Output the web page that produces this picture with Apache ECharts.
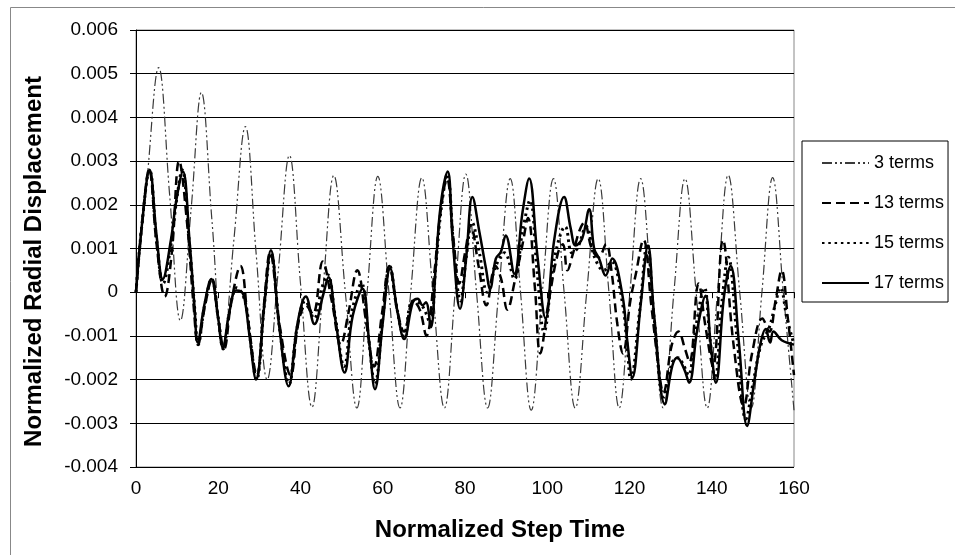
<!DOCTYPE html>
<html><head><meta charset="utf-8">
<script src="https://cdn.jsdelivr.net/npm/echarts@6/dist/echarts.min.js"></script>
<style>html,body{margin:0;padding:0;background:#fff}#c{width:955px;height:555px}</style>
</head><body><div id="c"></div>
<script>
const xTicks = [0, 20, 40, 60, 80, 100, 120, 140, 160];
const yTickLabels = ['-0.004', '-0.003', '-0.002', '-0.001', '0', '0.001', '0.002', '0.003', '0.004', '0.005', '0.006'];
const seriesNames = ['3 terms', '13 terms', '15 terms', '17 terms'];

const terms3 = [[0,0],[2.7,0.0026],[5.5,0.00514],[8.2,0.0022],[10.8,-0.00065],[13.4,0.0019],[15.9,0.00457],[18.5,0.0016],[21.1,-0.00129],[23.8,0.0012],[26.6,0.00379],[29.2,0.0009],[31.9,-0.002],[34.6,0.0005],[37.3,0.00313],[40.0,0.0002],[42.8,-0.00263],[45.4,0.0000],[48.1,0.00267],[50.9,0.0],[53.7,-0.00265],[56.2,0.0],[58.8,0.00265],[61.5,0.0],[64.2,-0.00265],[66.8,0],[69.5,0.00262],[72.2,0],[75.0,-0.00265],[77.6,0],[80.2,0.0027],[82.8,0],[85.5,-0.00265],[88.2,0],[91.0,0.0026],[93.5,0],[96.1,-0.0027],[98.8,0],[101.5,0.0026],[104.1,0],[106.8,-0.00265],[109.6,0],[112.4,0.0026],[115.0,0],[117.5,-0.00265],[120.1,0],[122.7,0.0026],[125.4,0],[128.2,-0.00265],[130.8,0],[133.5,0.0026],[136.2,0],[138.9,-0.00265],[141.4,0],[144.0,0.00268],[146.8,0],[149.6,-0.00265],[152.2,0],[154.8,0.00262],[157.4,0],[160,-0.0027]];

const terms13 = [[0,0],[1.5,0.0016],[3.2,0.0028],[5,0.0011],[7,-0.0001],[8.7,0.0009],[10.5,0.003],[12.4,0.0016],[14,-0.0003],[15.1,-0.0012],[16.6,-0.0004],[18.5,0.0003],[20,-0.0006],[21.4,-0.0013],[23.2,-0.0002],[25.4,0.0006],[27.2,-0.0006],[29.4,-0.0019],[31.1,-0.0003],[32.6,0.0009],[35,-0.0008],[37.6,-0.0019],[39.5,-0.0007],[41.3,-0.0003],[43,-0.0005],[45.4,0.0007],[47.6,-0.0002],[49.8,-0.0012],[51.6,-0.0005],[53.8,0.0005],[56,-0.0007],[57.9,-0.0017],[59.8,-0.0005],[61.6,0.0006],[63.5,-0.0004],[65.2,-0.0009],[67.4,-0.0002],[69,-0.0004],[70.6,-0.001],[72.5,0.0004],[74,0.0018],[75.6,0.0026],[77.2,0.0012],[78.6,0.0002],[80,0.0009],[81.4,0.0015],[83.3,0.0006],[85.2,-0.0003],[87.4,0.0006],[88.8,0.0003],[90.3,-0.0004],[92.2,0.0003],[94,0.0011],[95.3,0.0017],[97,0.0001],[98.3,-0.0014],[100.2,-0.0003],[102.6,0.0009],[103.8,0.0011],[104.9,0.0005],[106.3,0.0009],[107.8,0.0014],[109,0.0016],[110.8,0.0010],[112.5,0.0008],[114.3,0.0011],[115.6,0.0005],[117,-0.0007],[118.4,-0.0014],[120.2,-0.0002],[121.5,0.0004],[123.4,0.0012],[125.3,-0.0003],[127.3,-0.0019],[128.2,-0.0023],[130.3,-0.0012],[131.9,-0.0009],[133.5,-0.0013],[134.6,-0.0016],[136.8,0.0002],[138.5,-0.0008],[140.3,-0.0017],[142.7,0.0012],[145.3,-0.0012],[147.8,-0.0026],[149.8,-0.0014],[152.3,-0.0006],[154,-0.0009],[155.5,-0.0002],[157,0.0005],[158.5,-0.0006],[160,-0.0019]];

const terms15 = [[0,0],[1.5,0.0016],[3.3,0.0028],[5,0.0012],[6.6,0.0002],[8.5,0.0011],[10,0.0022],[11.2,0.0028],[13,0.0011],[14.3,-0.0004],[15.1,-0.0012],[16.7,-0.0003],[18.4,0.0003],[20,-0.0006],[21.2,-0.0013],[22.8,-0.0004],[24.5,0.0001],[26.5,-0.0002],[27.8,-0.0011],[29.3,-0.002],[31.2,-0.0003],[32.8,0.0009],[35,-0.0009],[37.2,-0.0021],[39.2,-0.0008],[41.2,-0.0002],[43.3,-0.0006],[45.2,0.0001],[46.6,0.0004],[48.5,-0.0006],[50.6,-0.0017],[52.6,-0.0004],[54.8,0.0002],[56.6,-0.0011],[58.1,-0.0021],[60,-0.0006],[61.7,0.0006],[63.5,-0.0004],[65.2,-0.001],[67.3,-0.0002],[69.5,-0.0003],[71.5,-0.0007],[72.9,0.0006],[74.2,0.0019],[75.7,0.0027],[77.2,0.0011],[78.9,-0.0002],[80.3,0.0008],[81.7,0.0016],[83.5,0.0009],[85.4,0.0000],[87.5,0.0006],[89.6,0.0009],[92,0.0003],[94,0.0014],[95.8,0.0021],[97.6,0.0004],[99.2,-0.0009],[101.8,0.0008],[104.4,0.0015],[106,0.0009],[107.3,0.0010],[109.5,0.0015],[111.5,0.0008],[113.8,0.0005],[115.6,0.0007],[118.2,-0.0002],[119.4,-0.0012],[120.3,-0.002],[122.5,-0.0004],[124.3,0.0011],[126,-0.0006],[128.4,-0.0024],[130.4,-0.0016],[131.8,-0.0015],[133.3,-0.0017],[134.3,-0.0019],[136.3,-0.0007],[138.2,0.0001],[139.5,-0.001],[140.8,-0.002],[142.5,-0.0002],[144,0.0008],[146.2,-0.0011],[148.3,-0.0029],[150.2,-0.002],[152,-0.0012],[154,-0.0008],[155.4,-0.0003],[156.7,0.0001],[158.3,-0.0006],[160,-0.0012]];

const terms17 = [[0,0],[1.5,0.0016],[3.3,0.0028],[5,0.0013],[6.5,0.0003],[8.5,0.0012],[9.8,0.0021],[11.4,0.00276],[13,0.0012],[14.2,-0.0003],[15.0,-0.00115],[16.6,-0.0003],[18.3,0.0003],[19.9,-0.00054],[21.1,-0.00126],[22.7,-0.00046],[24.3,0.00004],[25.5,0.00002],[26.4,-0.00015],[27.6,-0.001],[29.2,-0.002],[31.2,-0.0003],[32.8,0.00096],[34.9,-0.00084],[37.1,-0.00215],[39.3,-0.0007],[41.3,-0.0001],[43.4,-0.00073],[45.4,-0.0001],[46.8,0.00034],[48.6,-0.0007],[50.7,-0.00184],[52.7,-0.00054],[55.1,0.00008],[56.7,-0.00115],[58.1,-0.00222],[60,-0.0007],[61.8,0.00054],[63.6,-0.00046],[65.2,-0.00107],[67.3,-0.00023],[68.5,-0.00015],[69.7,-0.0003],[70.5,-0.00023],[71.7,-0.0008],[72.9,0.0006],[74.1,0.002],[75.8,0.00276],[77,0.0012],[78.8,-0.00038],[80.3,0.0008],[81.8,0.00218],[83.5,0.00138],[85.1,0.00054],[86.1,0.00008],[87.5,0.00077],[88.7,0.00092],[89.9,0.0013],[92.0,0.00042],[94,0.00184],[95.6,0.0026],[97.6,0.00084],[99.6,-0.0006],[101.7,0.0012],[104.1,0.00218],[105.7,0.00146],[106.9,0.00107],[108.5,0.00123],[110.2,0.0019],[111.4,0.001],[112.6,0.00077],[114.2,0.00038],[115.8,0.00077],[118.3,-0.00008],[119.5,-0.00115],[120.7,-0.00195],[122.7,-0.0003],[124.5,0.00107],[126,-0.00054],[128.6,-0.00256],[130.4,-0.00169],[131.6,-0.0015],[133.3,-0.00176],[134.5,-0.00207],[136.5,-0.00084],[138.5,-0.00008],[139.7,-0.00115],[141.0,-0.00207],[143,-0.00008],[144.6,0.0006],[146.6,-0.00115],[148.6,-0.00306],[150.3,-0.00207],[151.9,-0.00115],[153.1,-0.00084],[154.2,-0.00115],[155,-0.0009],[157,-0.0011],[160,-0.0012]];

const FONT = "'Liberation Sans', Arial, sans-serif";
const yMin = -0.004, yStep = 0.001;

const chart = echarts.init(document.getElementById('c'), null, {renderer: 'canvas'});
const lineStyles = [
  {color: '#3a3a3a', width: 1.2, type: [10, 3, 2, 3, 2, 3]},
  {color: '#000', width: 2.5, type: [9, 5]},
  {color: '#000', width: 3, type: [2.5, 3.8]},
  {color: '#000', width: 2.5, type: 'solid'}
];
const dataSets = [terms3, terms13, terms15, terms17];

chart.setOption({
  animation: false,
  backgroundColor: '#fff',
  graphic: [{
    type: 'rect', shape: {x: 10.5, y: 7.5, width: 960, height: 560},
    style: {fill: 'none', stroke: '#888', lineWidth: 1}, silent: true, z: -10
  }],
  grid: {left: 136, top: 30, right: 161, bottom: 88, show: true, borderColor: '#888', borderWidth: 1},
  legend: {
    left: 802, top: 141, orient: 'vertical',
    itemWidth: 47, itemHeight: 18, itemGap: 22,
    padding: [13, 4, 10, 19],
    borderColor: '#000', borderWidth: 1,
    itemStyle: {opacity: 0},
    textStyle: {fontFamily: FONT, fontSize: 18, color: '#000'},
    data: seriesNames
  },
  xAxis: {
    type: 'value', min: xTicks[0], max: xTicks[xTicks.length - 1], interval: xTicks[1] - xTicks[0],
    name: 'Normalized Step Time', nameLocation: 'middle', nameGap: 51,
    nameTextStyle: {fontFamily: FONT, fontSize: 24, fontWeight: 'bold', color: '#000', padding: [0, 0, 0, 70]},
    axisLine: {show: true, lineStyle: {color: '#000', width: 1}},
    axisTick: {show: true, length: 6, lineStyle: {color: '#000'}},
    axisLabel: {fontFamily: FONT, fontSize: 19, color: '#000', margin: 12},
    splitLine: {show: false}
  },
  yAxis: {
    type: 'value', min: yMin, max: 0.006, interval: yStep,
    name: 'Normalized Radial Displacement', nameLocation: 'middle', nameGap: 90,
    nameTextStyle: {fontFamily: FONT, fontSize: 24, fontWeight: 'bold', color: '#000', padding: [0, 26, 0, 0]},
    axisLine: {show: true, lineStyle: {color: '#000', width: 1}},
    axisTick: {show: true, length: 6, lineStyle: {color: '#000'}},
    axisLabel: {
      fontFamily: FONT, fontSize: 19, color: '#000', margin: 18,
      formatter: function (v) { return yTickLabels[Math.round((v - yMin) / yStep)]; }
    },
    splitLine: {show: true, lineStyle: {color: '#000', width: 1}}
  },
  series: seriesNames.map(function (n, i) {
    return {
      name: n, type: 'line', data: dataSets[i], smooth: 0.4,
      symbol: 'none', showSymbol: false, silent: true,
      lineStyle: lineStyles[i], itemStyle: {color: lineStyles[i].color}
    };
  })
});
</script>
</body></html>
